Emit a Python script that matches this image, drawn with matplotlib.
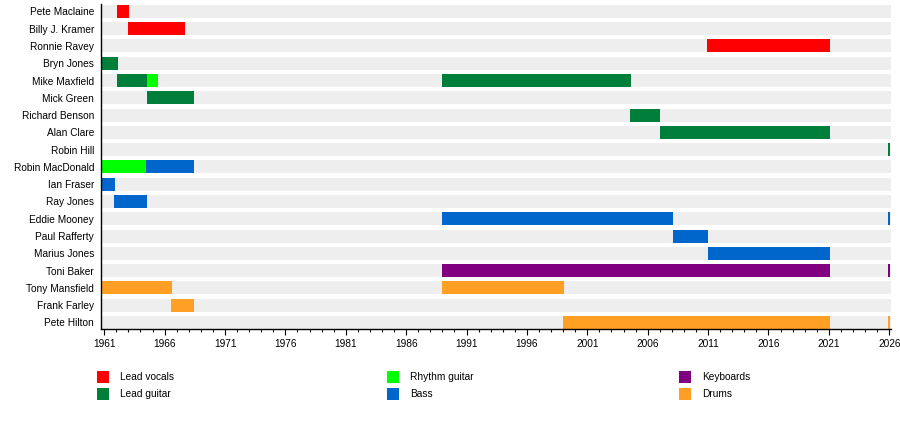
import matplotlib.pyplot as plt
from matplotlib.patches import Rectangle

plt.rcParams['font.family'] = ['Liberation Sans', 'DejaVu Sans']

members = ["Pete Maclaine", "Billy J. Kramer", "Ronnie Ravey", "Bryn Jones",
           "Mike Maxfield", "Mick Green", "Richard Benson", "Alan Clare",
           "Robin Hill", "Robin MacDonald", "Ian Fraser", "Ray Jones",
           "Eddie Mooney", "Paul Rafferty", "Marius Jones", "Toni Baker",
           "Tony Mansfield", "Frank Farley", "Pete Hilton"]

roles = ["Lead vocals", "Lead guitar", "Rhythm guitar", "Bass", "Keyboards", "Drums"]
role_colors = ["#ff0000", "#007f3a", "#00ff00", "#0066cc", "#800080", "#ffa024"]

start_year = 1960.73
end_year = 2026.15

# (member, role, from, to)
periods = [
    ("Pete Maclaine", "Lead vocals", 1962.05, 1963.06),
    ("Billy J. Kramer", "Lead vocals", 1962.96, 1967.68),
    ("Ronnie Ravey", "Lead vocals", 2010.9, 2021.1),
    ("Bryn Jones", "Lead guitar", 1960.73, 1962.1),
    ("Mike Maxfield", "Lead guitar", 1962.05, 1964.54),
    ("Mike Maxfield", "Rhythm guitar", 1964.54, 1965.45),
    ("Mike Maxfield", "Lead guitar", 1989.0, 2004.6),
    ("Mick Green", "Lead guitar", 1964.54, 1968.43),
    ("Richard Benson", "Lead guitar", 2004.5, 2007.0),
    ("Alan Clare", "Lead guitar", 2007.0, 2021.1),
    ("Robin Hill", "Lead guitar", 2025.9, 2026.1),
    ("Robin MacDonald", "Rhythm guitar", 1960.73, 1964.45),
    ("Robin MacDonald", "Bass", 1964.45, 1968.43),
    ("Ian Fraser", "Bass", 1960.73, 1961.89),
    ("Ray Jones", "Bass", 1961.8, 1964.54),
    ("Eddie Mooney", "Bass", 1989.0, 2008.1),
    ("Eddie Mooney", "Bass", 2025.9, 2026.1),
    ("Paul Rafferty", "Bass", 2008.1, 2011.0),
    ("Marius Jones", "Bass", 2011.0, 2021.1),
    ("Toni Baker", "Keyboards", 1989.0, 2021.1),
    ("Toni Baker", "Keyboards", 2025.9, 2026.1),
    ("Tony Mansfield", "Drums", 1960.73, 1966.6),
    ("Tony Mansfield", "Drums", 1989.0, 1999.07),
    ("Frank Farley", "Drums", 1966.52, 1968.43),
    ("Pete Hilton", "Drums", 1999.0, 2021.1),
    ("Pete Hilton", "Drums", 2025.9, 2026.1),
]

fs = 7.3
bar_h = 0.75

fig = plt.figure(figsize=(9, 4.29), dpi=100)
ax = fig.add_axes([101 / 900, 1 - 329 / 429, 790 / 900, 324.5 / 429])

rows = list(range(len(members)))
ax.barh(rows, end_year - start_year, left=start_year, height=bar_h,
        color="#eeeeee", linewidth=0)

color_of = dict(zip(roles, role_colors))
for name, role, a, b in periods:
    ax.barh(members.index(name), b - a, left=a, height=bar_h,
            color=color_of[role], linewidth=0, zorder=3)

ax.set_xlim(start_year, end_year)
ax.set_ylim(len(members) - 1 + 0.38, -0.40)
ax.set_yticks(rows)
ax.set_yticklabels(members, fontsize=fs)
ax.tick_params(axis='y', length=0, pad=5)

ax.set_xticks(range(1961, 2027, 5))
ax.set_xticks(range(1961, 2027), minor=True)
ax.tick_params(axis='x', which='major', direction='out', length=4.5,
               width=0.8, labelsize=fs, pad=3)
ax.tick_params(axis='x', which='minor', direction='out', length=2.2, width=0.8)

for s in ['top', 'right']:
    ax.spines[s].set_visible(False)
for s in ['left', 'bottom']:
    ax.spines[s].set_linewidth(1.0)
    ax.spines[s].set_color('black')
    ax.spines[s].set_zorder(4)

# legend, filled column by column
col_x = [97, 387, 679]
row_y = [377, 394]
for i, (role, c) in enumerate(zip(roles, role_colors)):
    x = col_x[i // 2]
    y = row_y[i % 2]
    fig.patches.append(Rectangle((x / 900, 1 - (y + 6) / 429), 12 / 900, 12 / 429,
                                 transform=fig.transFigure, color=c, linewidth=0))
    fig.text((x + 23) / 900, 1 - y / 429, role, fontsize=fs, va='center', ha='left')

fig.savefig("out.png", dpi=100)
